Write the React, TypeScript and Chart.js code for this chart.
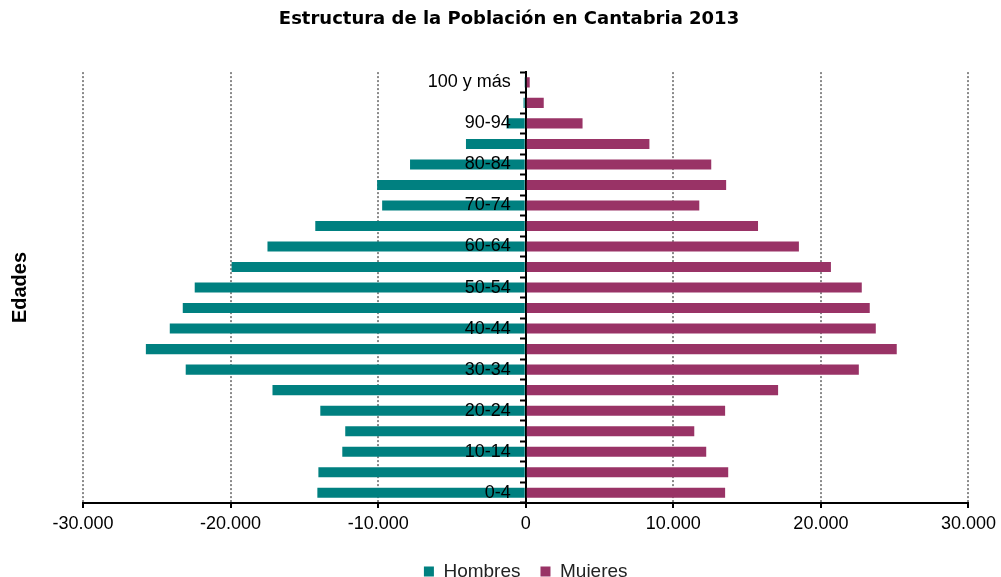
import React, { useEffect, useRef } from "react";
import { Chart, registerables } from "chart.js";

Chart.register(...registerables);

const TITLE = "Estructura de la Población en Cantabria 2013";
const AXIS_TITLE = "Edades";

// Age groups, youngest first (drawn bottom to top)
const ageGroups = [
  "0-4", "5-9", "10-14", "15-19", "20-24", "25-29", "30-34", "35-39",
  "40-44", "45-49", "50-54", "55-59", "60-64", "65-69", "70-74", "75-79",
  "80-84", "85-89", "90-94", "95-99", "100 y más",
];

const hombres = [
  14120, 14050, 12430, 12230, 13920, 17160, 23040, 25740,
  24120, 23240, 22430, 19930, 17500, 14260, 9730, 10070,
  7840, 4050, 1300, 150, 40,
];

const mujeres = [
  13510, 13720, 12230, 11420, 13510, 17100, 22570, 25140,
  23720, 23310, 22770, 20680, 18510, 15740, 11760, 13580,
  12570, 8380, 3850, 1220, 270,
];

const xTicks = [-30000, -20000, -10000, 0, 10000, 20000, 30000];

const FONT = '"Liberation Sans", Arial, sans-serif';

function fmt(v: number): string {
  const s = String(Math.abs(Math.round(v))).replace(/\B(?=(\d{3})+(?!\d))/g, ".");
  return (v < 0 ? "-" : "") + s;
}

const textPlugin = {
  id: "extraText",
  afterDatasetsDraw(chart: any) {
    const ctx = chart.ctx;
    const { top, bottom } = chart.chartArea;
    const xs = chart.scales.x;
    const ys = chart.scales.y;
    const x0 = xs.getPixelForValue(0);
    ctx.save();
    // category labels drawn over the bars, next to the zero line
    ctx.font = `18px ${FONT}`;
    ctx.fillStyle = "#000";
    ctx.textAlign = "right";
    ctx.textBaseline = "middle";
    ageGroups.forEach((lab, i) => {
      if (i % 2 === 0) ctx.fillText(lab, x0 - 15, ys.getPixelForValue(i));
    });
    // axis title
    ctx.translate(20, (top + bottom) / 2);
    ctx.rotate(-Math.PI / 2);
    ctx.font = `bold 20px ${FONT}`;
    ctx.textAlign = "center";
    ctx.fillText(AXIS_TITLE, 0, 0);
    ctx.restore();
  },
};

export default function App() {
  const ref = useRef<HTMLCanvasElement | null>(null);

  useEffect(() => {
    if (!ref.current) return;
    const chart = new Chart(ref.current, {
      type: "bar",
      data: {
        labels: ageGroups,
        datasets: [
          {
            label: "Hombres",
            data: hombres.map((v) => -v),
            backgroundColor: "#008080",
            borderWidth: 0,
            xAxisID: "x",
            yAxisID: "y",
          },
          {
            label: "Mujeres",
            data: mujeres,
            backgroundColor: "#993366",
            borderWidth: 0,
            xAxisID: "x",
            yAxisID: "y",
          },
        ],
      },
      options: {
        indexAxis: "y",
        responsive: false,
        animation: false,
        layout: { padding: { left: 48, right: 31, top: 0, bottom: 0 } },
        datasets: {
          bar: { barPercentage: 0.49, categoryPercentage: 1 },
        },
        scales: {
          x: {
            type: "linear",
            position: "bottom",
            min: xTicks[0],
            max: xTicks[xTicks.length - 1],
            stacked: true,
            afterBuildTicks: (s: any) => {
              s.ticks = xTicks.map((v) => ({ value: v }));
            },
            afterFit: (s: any) => {
              s.height = 39;
            },
            ticks: {
              padding: 5,
              color: "#000",
              font: { size: 18, family: FONT },
              callback: (v: any) => fmt(Number(v)),
            },
            grid: {
              color: (c: any) => (c.tick && c.tick.value === 0 ? "rgba(0,0,0,0)" : "#8a8a8a"),
              lineWidth: 2,
              tickColor: "#000",
              tickLength: 5,
              tickWidth: 2,
            },
            border: {
              display: true,
              color: "#000",
              width: 2,
              dash: (c: any) => (c.type === "tick" ? [2, 2] : []),
            },
          },
          y: {
            type: "category",
            axis: "y",
            position: { x: 0 } as any,
            reverse: true,
            stacked: true,
            offset: true,
            ticks: { display: false },
            grid: {
              display: true,
              drawOnChartArea: false,
              drawTicks: true,
              tickLength: 5,
              tickWidth: 2,
              tickColor: "#000",
              offset: true,
            },
            border: { display: true, color: "#000", width: 2 },
          },
          pad: {
            type: "linear",
            axis: "y",
            position: "left",
            display: true,
            ticks: { display: false },
            grid: { display: false, drawTicks: false },
            border: { display: false },
            afterFit: (s: any) => {
              s.width = 35;
            },
          },
        } as any,
        plugins: {
          title: {
            display: true,
            text: TITLE,
            color: "#000",
            font: { family: '"DejaVu Sans", sans-serif', size: 18, weight: "bold" },
            padding: { top: 8.5, bottom: 42 },
          },
          legend: {
            display: true,
            position: "bottom",
            fullSize: false,
            labels: {
              boxWidth: 10,
              boxHeight: 10,
              padding: 20,
              color: "#222",
              font: { size: 19, family: FONT },
            },
          },
          tooltip: { enabled: false },
        },
      },
      plugins: [textPlugin],
    });
    return () => chart.destroy();
  }, []);

  return (
    <div style={{ position: "fixed", left: 0, top: 0, width: 1001, height: 591, background: "#fff" }}>
      <canvas ref={ref} width={1001} height={591} style={{ display: "block" }} />
    </div>
  );
}
